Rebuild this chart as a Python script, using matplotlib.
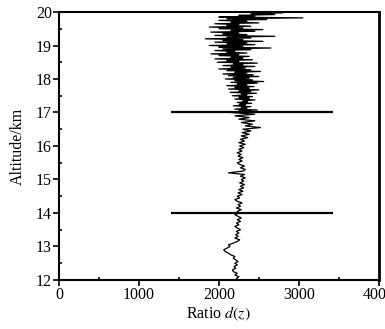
import numpy as np
import matplotlib
matplotlib.use("Agg")
import matplotlib.pyplot as plt
from matplotlib.ticker import MultipleLocator

# altitude (km): coarser below 17 km, finer above where the trace is noisy
alt_low = np.round(np.arange(12.0, 16.9501, 0.05), 3)
alt_high = np.round(np.arange(17.0, 20.0001, 0.025), 3)

# ratio d(z)
ratio_low = [
    2240, 2220, 2250, 2200, 2230, 2180, 2170, 2210, 2190, 2230,
    2200, 2240, 2210, 2180, 2200, 2150, 2120, 2080, 2060, 2100,
    2140, 2120, 2180, 2230, 2260, 2200, 2240, 2210, 2250, 2220,
    2270, 2230, 2200, 2250, 2220, 2270, 2230, 2280, 2240, 2200,
    2260, 2230, 2280, 2220, 2270, 2240, 2290, 2230, 2200, 2260,
    2230, 2290, 2240, 2300, 2250, 2310, 2270, 2320, 2260, 2310,
    2280, 2330, 2270, 2320, 2120, 2300, 2330, 2270, 2320, 2260,
    2230, 2290, 2250, 2300, 2240, 2280, 2230, 2290, 2250, 2310,
    2260, 2330, 2250, 2320, 2270, 2360, 2280, 2380, 2290, 2400,
    2300, 2520, 2330, 2420, 2280, 2450, 2250, 2380, 2200, 2450,
]
ratio_high = [
    2150, 2420, 2250, 2480, 2200, 2350, 2280, 2400, 2180, 2330,
    2260, 2410, 2230, 2360, 2300, 2450, 2200, 2380, 2250, 2420,
    2170, 2350, 2280, 2470, 2140, 2400, 2250, 2500, 2120, 2380,
    2200, 2440, 2100, 2350, 2230, 2480, 2150, 2560, 2200, 2420,
    2080, 2380, 2180, 2500, 2120, 2430, 2050, 2350, 2200, 2520,
    2100, 2400, 2000, 2330, 2150, 2450, 2050, 2300, 2180, 2480,
    1980, 2250, 2100, 2420, 1950, 2300, 2150, 2380, 2000, 2250,
    1900, 2350, 2100, 2200, 1950, 2400, 2050, 2650, 2000, 2300,
    1880, 2450, 2100, 2350, 1950, 2550, 2050, 2300, 1830, 2400,
    2100, 2700, 1950, 2350, 2050, 2250, 1900, 2450, 2150, 2550,
    2000, 2300, 1880, 2400, 2100, 2250, 1950, 2500, 2150, 2350,
    2000, 2600, 2100, 3050, 2000, 2450, 2250, 2700, 2400, 2800,
    2500,
]

# the two marker lines
mark_alt = [17.0, 14.0]
mark_x0 = 1400
mark_x1 = 3430

altitude = np.concatenate([alt_low, alt_high])
ratio = ratio_low + ratio_high

plt.rcParams['font.family'] = ['Liberation Serif', 'DejaVu Serif']
plt.rcParams['mathtext.fontset'] = 'stix'

fig = plt.figure(figsize=(3.85, 3.29), dpi=100)
ax = fig.add_axes([0.153, 0.149, 0.831, 0.8145])

ax.plot(ratio, altitude, color='black', lw=0.9)
ax.hlines(mark_alt, mark_x0, mark_x1, color='black', lw=1.6)

ax.set_xlim(0, 4000)
ax.set_ylim(12, 20)
ax.xaxis.set_major_locator(MultipleLocator(1000))
ax.xaxis.set_minor_locator(MultipleLocator(500))
ax.yaxis.set_major_locator(MultipleLocator(1))
ax.yaxis.set_minor_locator(MultipleLocator(0.5))
ax.tick_params(which='major', direction='out', length=4, width=1.2, labelsize=11.5, pad=1)
ax.tick_params(which='minor', direction='in', length=2.5, width=1.2)
ax.tick_params(top=False, right=False)

for s in ax.spines.values():
    s.set_linewidth(1.5)
ax.spines['right'].set_linewidth(2)

ax.set_xlabel("Ratio $d(z)$", fontsize=11.5, labelpad=1)
ax.set_ylabel("Altitude/km", fontsize=11.5, labelpad=7)

fig.savefig("out.png", dpi=100)
